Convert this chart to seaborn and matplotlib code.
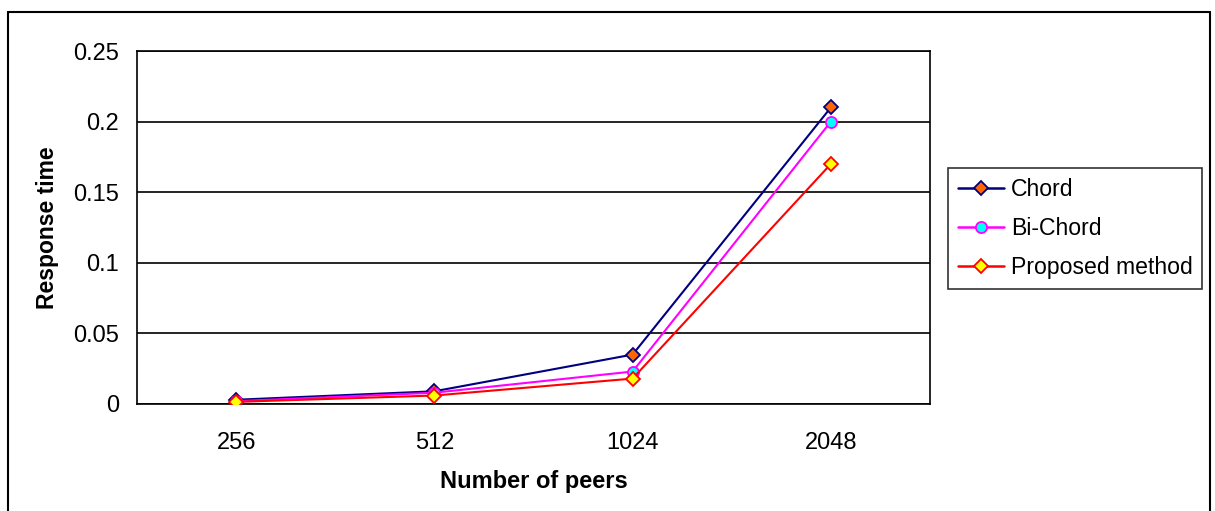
import matplotlib
matplotlib.use("Agg")
import matplotlib.pyplot as plt
from matplotlib.lines import Line2D
import numpy as np
import pandas as pd
import seaborn as sns

# Data
peers = ["256", "512", "1024", "2048"]
chord = [0.003, 0.009, 0.035, 0.21]
bi_chord = [0.002, 0.008, 0.023, 0.20]
proposed = [0.0015, 0.006, 0.018, 0.17]
series_names = ["Chord", "Bi-Chord", "Proposed method"]
y_ticks = [0, 0.05, 0.1, 0.15, 0.2, 0.25]
y_tick_labels = ["0", "0.05", "0.1", "0.15", "0.2", "0.25"]

sns.set_style("white")
plt.rcParams["font.family"] = ["Liberation Sans", "DejaVu Sans"]
plt.rcParams["text.color"] = "black"
plt.rcParams["axes.labelcolor"] = "black"
plt.rcParams["xtick.color"] = "black"
plt.rcParams["ytick.color"] = "black"

W, H = 1215, 511
fig = plt.figure(figsize=(W / 100, H / 100), dpi=100)
ax = fig.add_axes([137 / W, 1 - 404 / H, (930 - 137) / W, (404 - 51) / H])

df = pd.DataFrame({
    "pos": list(range(len(peers))) * 3,
    "value": chord + bi_chord + proposed,
    "series": [series_names[0]] * 4 + [series_names[1]] * 4 + [series_names[2]] * 4,
})

styles = {
    "Chord": dict(color="#000080", marker="D", mfc="#FF6600", mec="#000080", ms=7),
    "Bi-Chord": dict(color="#FF00FF", marker="o", mfc="#00FFFF", mec="#FF00FF", ms=8),
    "Proposed method": dict(color="#FF0000", marker="D", mfc="#FFFF00", mec="#FF0000", ms=7),
}

for name in series_names:
    st = styles[name]
    sub = df[df["series"] == name]
    sns.lineplot(data=sub, x="pos", y="value", ax=ax, color=st["color"], lw=1.5,
                 marker=st["marker"], markerfacecolor=st["mfc"], markeredgecolor=st["mec"],
                 markeredgewidth=1.3, markersize=st["ms"], legend=False, zorder=3)

ax.set_xlim(-0.5, len(peers) - 0.5)
ax.set_ylim(0, 0.25)
ax.set_yticks(y_ticks)
ax.set_yticklabels(y_tick_labels)
ax.set_xticks(range(len(peers)))
ax.set_xticklabels(peers)
ax.set_xticks(np.arange(-0.5, len(peers)), minor=True)
ax.tick_params(axis="x", which="major", length=0, pad=20, labelsize=17)
ax.tick_params(axis="x", which="minor", length=7, width=1.2, color="black", direction="out")
ax.tick_params(axis="y", length=7, width=1.2, color="black", direction="out", pad=6, labelsize=17)
ax.yaxis.grid(True, color="black", lw=1.2)
ax.set_axisbelow(True)
for sp in ax.spines.values():
    sp.set_color("black")
    sp.set_linewidth(1.2)

ax.set_xlabel("Number of peers", fontsize=17, fontweight="bold", labelpad=12)
ax.set_ylabel("Response time", fontsize=16.5, fontweight="bold", labelpad=10)

handles = [Line2D([], [], color=styles[n]["color"], lw=1.8, marker=styles[n]["marker"],
                  markerfacecolor=styles[n]["mfc"], markeredgecolor=styles[n]["mec"],
                  markeredgewidth=1.3, markersize=styles[n]["ms"]) for n in series_names]
leg = fig.legend(handles, series_names, loc="upper left",
                 bbox_to_anchor=(948 / W, 1 - 168 / H), fontsize=16.6, frameon=True,
                 fancybox=False, edgecolor="black", borderpad=0.42, handlelength=2.0,
                 handletextpad=0.3, labelspacing=0.7, borderaxespad=0)
leg.get_frame().set_linewidth(1.2)

# Outer chart frame
x0, x1, yt = 8 / W, 1210 / W, 1 - 12 / H
for xs, ys in [([x0, x0], [-0.1, yt]), ([x0, x1], [yt, yt]), ([x1, x1], [yt, -0.1])]:
    fig.add_artist(Line2D(xs, ys, color="black", lw=1.5, transform=fig.transFigure))

fig.savefig("out.png", dpi=100)
